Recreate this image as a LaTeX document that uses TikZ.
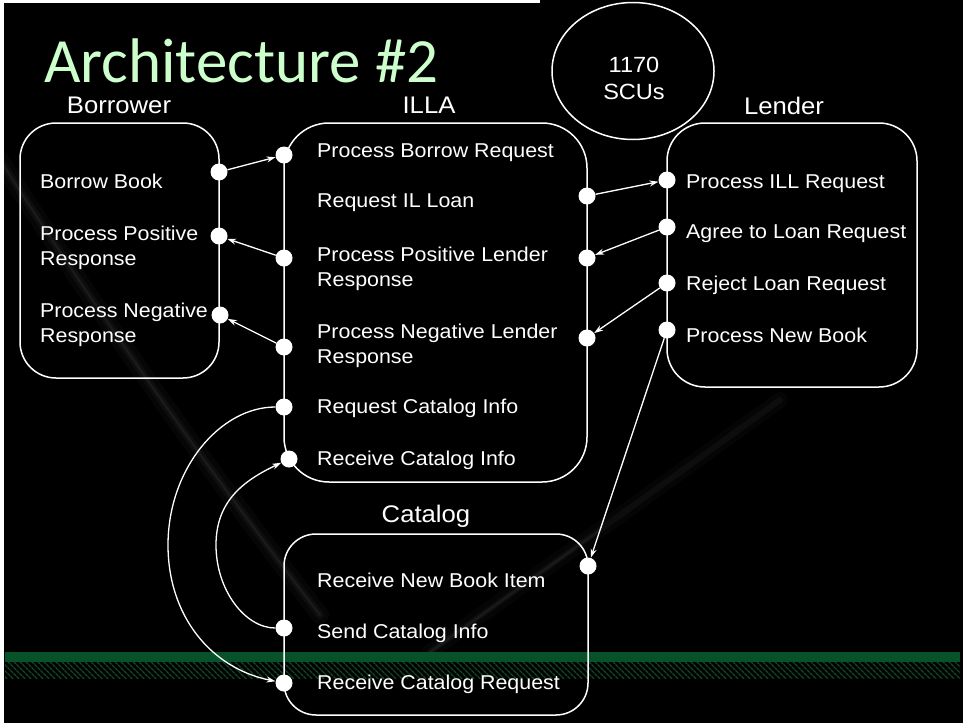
\documentclass[tikz,border=0pt]{standalone}
\usepackage{fontspec}
\setmainfont[FakeStretch=1.07]{Liberation Sans}
\newfontfamily\titlefont{Carlito}
\usetikzlibrary{arrows.meta,patterns.meta,shapes.geometric}
\definecolor{titlegreen}{RGB}{204,255,204}
\definecolor{bargreen}{RGB}{8,82,42}
\definecolor{hatchgreen}{RGB}{16,72,40}
\newcommand\duoline[2]{\vtop{\hbox{#1}\hbox{#2}}}
\begin{document}
\begin{tikzpicture}[x=1pt,y=-1pt,
  box/.style={draw=white, line width=1.5pt},
  dot/.style={circle, fill=white, inner sep=0pt, minimum size=17pt},
  lbl/.style={anchor=base west, inner sep=0pt, text=white, font=\fontsize{20}{25}\selectfont},
  hdr/.style={anchor=base, inner sep=0pt, text=white, text depth=0pt, font=\fontsize{24}{28}\selectfont},
  link/.style={draw=white, line width=1.3pt, -{Stealth[length=9pt,width=6pt]}},
  glow/.style={draw=white, line cap=round},
]
\useasboundingbox (0,0) rectangle (963,723);
\fill[black] (0,0) rectangle (963,723);
\fill[white] (0,0) rectangle (3.5,723);
\fill[white] (0,0) rectangle (540,2.5);

% background streaks
\draw[glow, opacity=0.025, line width=18pt] (0,160) .. controls (90,300) and (200,460) .. (320,615);
\draw[glow, opacity=0.035, line width=8pt] (0,160) .. controls (90,300) and (200,460) .. (320,615);
\draw[glow, opacity=0.05, line width=2.5pt] (0,160) .. controls (90,300) and (200,460) .. (320,615);
\draw[glow, opacity=0.02, line width=16pt] (430,652) -- (780,400);
\draw[glow, opacity=0.035, line width=6pt] (430,652) -- (780,400);
\draw[glow, opacity=0.05, line width=2.5pt] (430,652) -- (600,530);

% green bar
\fill[bargreen] (5,652) rectangle (960,662);
\fill[pattern={Lines[angle=-45,distance=4pt,line width=1.6pt]}, pattern color=hatchgreen] (5,662) rectangle (960,678);

% title and headers
\node[anchor=base west, inner sep=0pt, text depth=0pt, text=titlegreen, font=\titlefont\fontsize{63}{70}\selectfont] (title) at (44,82) {Architecture \#2};
\node[hdr] (hBor) at (119,113) {Borrower};
\node[hdr] (hIL) at (429,113) {ILLA};
\node[hdr] (hLen) at (784,114) {Lender};
\node[hdr] (hCat) at (426,522) {Catalog};

% 1170 SCUs
\node[draw=white, line width=1.5pt, ellipse, minimum width=162pt, minimum height=137pt, inner sep=0pt] (scu) at (633,71) {};
\node[align=center, inner sep=0pt, text=white, font=\fontsize{22}{27}\selectfont] (scut) at (634,78.5) {1170\\SCUs};

% boxes
\draw[box, rounded corners=36pt] (20,123) rectangle (219,378);
\draw[box, rounded corners=45pt] (284,123) rectangle (587,482);
\draw[box, rounded corners=38pt] (667,123) rectangle (917,387);
\draw[box, rounded corners=32pt] (284,534) rectangle (588,715);

% labels
\node[lbl] (tBB) at (40,188) {Borrow Book};
\node[lbl] (tBP) at (40,240) {\duoline{Process Positive}{Response}};
\node[lbl] (tBN) at (40,317) {\duoline{Process Negative}{Response}};

\node[lbl] (tIPB) at (317,157) {Process Borrow Request};
\node[lbl] (tIRL) at (317,207) {Request IL Loan};
\node[lbl] (tIPP) at (317,261) {\duoline{Process Positive Lender}{Response}};
\node[lbl] (tIPN) at (317,338) {\duoline{Process Negative Lender}{Response}};
\node[lbl] (tIRQ) at (317,413) {Request Catalog Info};
\node[lbl] (tIRC) at (317,465) {Receive Catalog Info};

\node[lbl] (tLPR) at (686,188) {Process ILL Request};
\node[lbl] (tLAG) at (686,238) {Agree to Loan Request};
\node[lbl] (tLRJ) at (686,290) {Reject Loan Request};
\node[lbl] (tLNB) at (686,342) {Process New Book};

\node[lbl] (tCNB) at (317,587) {Receive New Book Item};
\node[lbl] (tCSC) at (317,638) {Send Catalog Info};
\node[lbl] (tCRC) at (317,689) {Receive Catalog Request};

% dots
\node[dot] (bBB) at (219,172) {};
\node[dot] (bPP) at (219,236) {};
\node[dot] (bPN) at (220,315) {};
\node[dot] (iPB) at (284,155) {};
\node[dot] (iPP) at (284,258) {};
\node[dot] (iPN) at (284,347) {};
\node[dot] (iRQ) at (284,407) {};
\node[dot] (iRC) at (289,459) {};
\node[dot] (iIL) at (587,196) {};
\node[dot] (iLP) at (587,258) {};
\node[dot] (iLN) at (587,338) {};
\node[dot] (lPR) at (667,180) {};
\node[dot] (lAG) at (667,227) {};
\node[dot] (lRJ) at (667,283) {};
\node[dot] (lNB) at (667,330) {};
\node[dot] (cNB) at (588,566) {};
\node[dot] (cSC) at (284,628) {};
\node[dot] (cRC) at (284,683) {};

% connectors
\draw[link] (bBB) -- (iPB);
\draw[link] (iPP) -- (bPP);
\draw[link] (iPN) -- (bPN);
\draw[link] (iIL) -- (lPR);
\draw[link] (lAG) -- (iLP);
\draw[link] (lRJ) -- (iLN);
\draw[link] (lNB) -- (cNB);
\draw[link] (iRQ) .. controls (220,407) and (168,469) .. (168,545) .. controls (168,615) and (210,668) .. (cRC);
\draw[link] (cSC) .. controls (245,628) and (216,590) .. (216,545) .. controls (216,500) and (245,480) .. (iRC);
\end{tikzpicture}
\end{document}
